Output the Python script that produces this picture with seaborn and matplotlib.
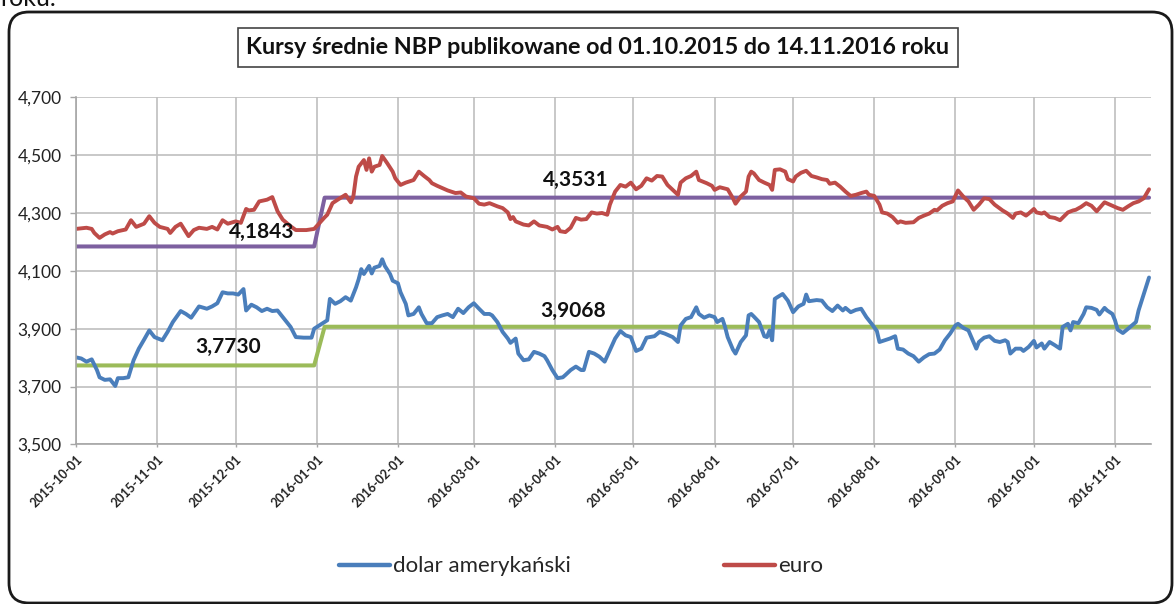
import pandas as pd
import seaborn as sns
import matplotlib.pyplot as plt
import matplotlib.dates as mdates
from matplotlib.lines import Line2D
from matplotlib.patches import FancyBboxPatch
from matplotlib.ticker import FuncFormatter, FixedLocator

# Data (day offsets counted from 2015-10-01)
start = "2015-10-01"

eur_days = [0, 4, 6, 7, 9, 11, 13, 14, 16, 19, 21, 23, 26, 28, 30, 32, 35, 36, 38, 40,
            43, 45, 47, 50, 52, 54, 56, 58, 61, 63, 65, 66, 68, 70, 73, 75, 77, 79, 82, 84,
            88, 91, 95, 96, 98, 100, 103, 105, 106, 107, 108, 110, 111, 112, 113, 114, 116, 117, 119, 121,
            122, 124, 126, 129, 131, 133, 135, 136, 138, 140, 142, 145, 147, 149, 152, 154, 156, 158, 161, 163,
            165, 166, 167, 168, 171, 173, 175, 177, 180, 182, 184, 185, 187, 189, 191, 193, 195, 197, 199, 201,
            203, 204, 206, 208, 210, 212, 214, 216, 218, 220, 222, 224, 226, 228, 230, 231, 233, 235, 237, 238,
            241, 243, 244, 246, 249, 251, 252, 254, 256, 257, 258, 259, 261, 263, 265, 266, 267, 269, 271, 272,
            274, 275, 277, 279, 281, 283, 285, 287, 288, 290, 292, 294, 296, 298, 300, 302, 303, 305, 307, 308,
            310, 312, 314, 315, 317, 320, 322, 324, 326, 328, 329, 331, 333, 335, 337, 339, 341, 343, 345, 347,
            349, 351, 354, 356, 358, 359, 361, 363, 364, 366, 367, 369, 370, 372, 374, 376, 379, 381, 382, 384,
            386, 388, 390, 393, 395, 396, 398, 400, 402, 404, 406, 408, 410]
eur_vals = [4.245, 4.249, 4.245, 4.231, 4.214, 4.226, 4.234, 4.229, 4.237, 4.243, 4.275, 4.252, 4.263, 4.289, 4.266, 4.252, 4.245, 4.231, 4.252, 4.263,
            4.220, 4.241, 4.249, 4.245, 4.252, 4.243, 4.275, 4.263, 4.271, 4.266, 4.314, 4.309, 4.311, 4.340, 4.346, 4.355, 4.306, 4.277, 4.254, 4.241,
            4.241, 4.245, 4.285, 4.294, 4.334, 4.346, 4.363, 4.337, 4.359, 4.426, 4.460, 4.483, 4.449, 4.489, 4.443, 4.460, 4.466, 4.497, 4.471, 4.443,
            4.420, 4.397, 4.405, 4.414, 4.443, 4.428, 4.414, 4.403, 4.394, 4.386, 4.378, 4.369, 4.371, 4.357, 4.351, 4.332, 4.329, 4.334, 4.323, 4.317,
            4.302, 4.279, 4.286, 4.271, 4.260, 4.257, 4.271, 4.257, 4.252, 4.243, 4.252, 4.237, 4.234, 4.249, 4.283, 4.277, 4.279, 4.302, 4.298, 4.300,
            4.294, 4.329, 4.374, 4.397, 4.391, 4.405, 4.382, 4.394, 4.420, 4.412, 4.428, 4.426, 4.397, 4.380, 4.363, 4.405, 4.420, 4.428, 4.443, 4.414,
            4.403, 4.394, 4.380, 4.389, 4.382, 4.351, 4.332, 4.357, 4.374, 4.426, 4.443, 4.437, 4.414, 4.405, 4.397, 4.380, 4.449, 4.451, 4.443, 4.417,
            4.409, 4.426, 4.439, 4.446, 4.428, 4.423, 4.417, 4.414, 4.401, 4.405, 4.391, 4.374, 4.359, 4.363, 4.369, 4.374, 4.363, 4.359, 4.329, 4.302,
            4.298, 4.286, 4.266, 4.271, 4.266, 4.268, 4.283, 4.291, 4.298, 4.311, 4.309, 4.325, 4.334, 4.340, 4.378, 4.357, 4.340, 4.311, 4.329, 4.351,
            4.348, 4.329, 4.309, 4.298, 4.283, 4.298, 4.302, 4.291, 4.298, 4.314, 4.302, 4.298, 4.302, 4.286, 4.283, 4.275, 4.302, 4.309, 4.311, 4.321,
            4.334, 4.325, 4.306, 4.337, 4.329, 4.325, 4.317, 4.311, 4.323, 4.334, 4.340, 4.351, 4.382]

usd_days = [0, 2, 4, 6, 8, 9, 11, 13, 15, 16, 18, 20, 22, 24, 26, 28, 30, 33, 35, 37,
            40, 42, 44, 45, 47, 50, 52, 54, 56, 58, 60, 62, 64, 65, 67, 69, 71, 73, 75, 77,
            79, 82, 84, 87, 90, 91, 95, 96, 97, 99, 101, 103, 105, 107, 108, 109, 110, 112, 113, 114,
            116, 117, 118, 120, 121, 123, 124, 126, 127, 129, 131, 132, 134, 136, 138, 140, 142, 144, 146, 148,
            150, 152, 154, 156, 158, 159, 161, 163, 165, 166, 168, 169, 171, 173, 175, 177, 179, 180, 182, 184,
            186, 187, 189, 191, 193, 194, 196, 198, 200, 202, 204, 206, 208, 210, 212, 214, 216, 218, 221, 223,
            225, 228, 230, 231, 233, 235, 237, 238, 240, 242, 244, 245, 247, 248, 249, 251, 252, 254, 256, 257,
            258, 259, 261, 263, 264, 265, 266, 267, 268, 270, 272, 274, 276, 278, 279, 280, 283, 285, 287, 289,
            291, 293, 294, 296, 298, 300, 302, 304, 306, 307, 309, 311, 313, 314, 316, 318, 320, 322, 324, 326,
            328, 330, 332, 334, 336, 337, 339, 341, 344, 345, 347, 349, 351, 353, 355, 356, 357, 359, 361, 362,
            364, 366, 367, 369, 370, 372, 374, 376, 377, 379, 380, 381, 383, 385, 386, 388, 390, 391, 393, 394,
            396, 397, 398, 400, 402, 405, 406, 408, 410]
usd_vals = [3.801, 3.797, 3.786, 3.794, 3.757, 3.732, 3.723, 3.725, 3.702, 3.729, 3.729, 3.732, 3.791, 3.831, 3.862, 3.894, 3.871, 3.860, 3.889, 3.923,
            3.961, 3.951, 3.938, 3.951, 3.977, 3.969, 3.977, 3.988, 4.026, 4.022, 4.022, 4.018, 4.037, 3.963, 3.983, 3.974, 3.961, 3.969, 3.961, 3.963,
            3.940, 3.906, 3.871, 3.869, 3.869, 3.900, 3.923, 3.929, 4.003, 3.986, 3.995, 4.009, 3.997, 4.043, 4.071, 4.106, 4.089, 4.117, 4.091, 4.111,
            4.117, 4.140, 4.117, 4.089, 4.066, 4.057, 4.026, 3.986, 3.946, 3.951, 3.974, 3.951, 3.919, 3.919, 3.940, 3.946, 3.951, 3.940, 3.969, 3.954,
            3.974, 3.988, 3.969, 3.951, 3.951, 3.946, 3.923, 3.889, 3.866, 3.851, 3.866, 3.814, 3.791, 3.794, 3.820, 3.814, 3.805, 3.791, 3.757, 3.729,
            3.732, 3.740, 3.757, 3.769, 3.757, 3.757, 3.820, 3.814, 3.803, 3.786, 3.826, 3.866, 3.892, 3.877, 3.871, 3.823, 3.831, 3.869, 3.874, 3.889,
            3.883, 3.871, 3.854, 3.911, 3.934, 3.940, 3.974, 3.951, 3.938, 3.946, 3.940, 3.923, 3.934, 3.906, 3.871, 3.828, 3.814, 3.854, 3.877, 3.946,
            3.951, 3.942, 3.923, 3.874, 3.871, 3.894, 3.860, 4.003, 4.009, 4.020, 3.997, 3.957, 3.977, 3.986, 4.018, 3.995, 3.999, 3.997, 3.974, 3.961,
            3.980, 3.963, 3.972, 3.957, 3.965, 3.969, 3.940, 3.917, 3.892, 3.854, 3.860, 3.866, 3.874, 3.831, 3.828, 3.814, 3.805, 3.786, 3.801, 3.812,
            3.814, 3.828, 3.860, 3.883, 3.911, 3.917, 3.903, 3.894, 3.831, 3.854, 3.869, 3.874, 3.858, 3.854, 3.860, 3.854, 3.814, 3.831, 3.831, 3.823,
            3.837, 3.858, 3.835, 3.849, 3.831, 3.854, 3.843, 3.831, 3.906, 3.917, 3.894, 3.923, 3.919, 3.951, 3.974, 3.972, 3.965, 3.949, 3.972, 3.963,
            3.951, 3.929, 3.897, 3.885, 3.900, 3.923, 3.963, 4.020, 4.077]

# period averages (2015 part / 2016 part)
avg_dates = ["2015-10-01", "2015-12-31", "2016-01-04", "2016-11-14"]
eur_avg = [4.1843, 4.1843, 4.3531, 4.3531]
usd_avg = [3.7730, 3.7730, 3.9068, 3.9068]

y_ticks = [3.5, 3.7, 3.9, 4.1, 4.3, 4.5, 4.7]
title = "Kursy średnie NBP publikowane od 01.10.2015 do 14.11.2016 roku"
series_names = ["dolar amerykański", "euro"]

c_usd = "#4A7EBB"
c_eur = "#BE4B48"
c_eur_avg = "#7D60A0"
c_usd_avg = "#9BBB59"
grid_c = "#BFBFBF"

sns.set_style("white")
plt.rcParams["font.family"] = ["Lato", "DejaVu Sans"]

t0 = pd.Timestamp(start)
usd = pd.DataFrame({"data": t0 + pd.to_timedelta(usd_days, unit="D"), "kurs": usd_vals})
eur = pd.DataFrame({"data": t0 + pd.to_timedelta(eur_days, unit="D"), "kurs": eur_vals})
avg = pd.DataFrame({"data": pd.to_datetime(avg_dates), "eur": eur_avg, "usd": usd_avg})

W, H = 1174, 604
fig = plt.figure(figsize=(W / 100, H / 100), dpi=100)
ax = fig.add_axes([76 / W, 1 - 444.4 / H, (1151 - 76) / W, (444.4 - 97.3) / H])

sns.lineplot(data=avg, x="data", y="eur", color=c_eur_avg, linewidth=2.9, ax=ax)
sns.lineplot(data=avg, x="data", y="usd", color=c_usd_avg, linewidth=2.9, ax=ax)
sns.lineplot(data=usd, x="data", y="kurs", color=c_usd, linewidth=2.8, ax=ax)
sns.lineplot(data=eur, x="data", y="kurs", color=c_eur, linewidth=2.8, ax=ax)

ax.set_xlim(t0, pd.Timestamp("2016-11-14 18:00"))
ax.set_ylim(y_ticks[0], y_ticks[-1])
ax.yaxis.set_major_locator(FixedLocator(y_ticks))
ax.yaxis.set_major_formatter(FuncFormatter(lambda v, p: f"{v:.3f}".replace(".", ",")))
ax.xaxis.set_major_locator(mdates.MonthLocator())
ax.xaxis.set_major_formatter(mdates.DateFormatter("%Y-%m-%d"))
ax.set_xlabel("")
ax.set_ylabel("")

ax.grid(True, color=grid_c, linewidth=1.2)
ax.set_axisbelow(True)
for s in ["top", "right"]:
    ax.spines[s].set_visible(False)
for s in ["left", "bottom"]:
    ax.spines[s].set_color("#A6A6A6")
    ax.spines[s].set_linewidth(1.2)

ax.tick_params(axis="y", direction="out", length=4.3, width=1, color="#A6A6A6",
               labelsize=12.5, pad=6, labelcolor="#222222", left=True)
ax.tick_params(axis="x", direction="out", length=2.2, width=1, color="#A6A6A6",
               labelsize=9, pad=4, labelcolor="#222222", bottom=True)
for lab in ax.get_xticklabels():
    lab.set_rotation(45)
    lab.set_ha("right")
    lab.set_va("top")
    lab.set_rotation_mode("anchor")
    lab.set_fontweight("bold")

# average labels
lbl = dict(ha="center", va="center", fontsize=15, fontweight="bold", color="#111111")
ax.text(t0 + pd.Timedelta(days=71), 4.233, "4,1843", **lbl)
ax.text(t0 + pd.Timedelta(days=58), 3.837, "3,7730", **lbl)
ax.text(t0 + pd.Timedelta(days=191), 4.413, "4,3531", **lbl)
ax.text(t0 + pd.Timedelta(days=190), 3.962, "3,9068", **lbl)

# title in a box
fig.text(598 / W, 1 - 47.5 / H, title, ha="center", va="center", fontsize=16.8, fontweight="bold",
         color="#111111",
         bbox=dict(boxstyle="square,pad=0.38", facecolor="white", edgecolor="#444444", linewidth=1.2))

handles = [Line2D([], [], color=c_usd, linewidth=3.2, solid_capstyle="round"),
           Line2D([], [], color=c_eur, linewidth=3.2, solid_capstyle="round")]
fig.legend(handles, series_names, loc="center", bbox_to_anchor=(581 / W, 1 - 566.5 / H), ncol=2,
           frameon=False, fontsize=16, handlelength=2.27, handletextpad=0.15, columnspacing=6.9)

# rounded chart frame and the cut-off text above it
frame = FancyBboxPatch((9, 1), 1163, 591, boxstyle="round,pad=0,rounding_size=20",
                       transform=None, facecolor="none", edgecolor="#1a1a1a", linewidth=2)
fig.patches.append(frame)
fig.text(0, 1 - 6 / H, "roku.", ha="left", va="baseline", fontsize=18, color="#111111")

fig.savefig("out.png", dpi=100)
